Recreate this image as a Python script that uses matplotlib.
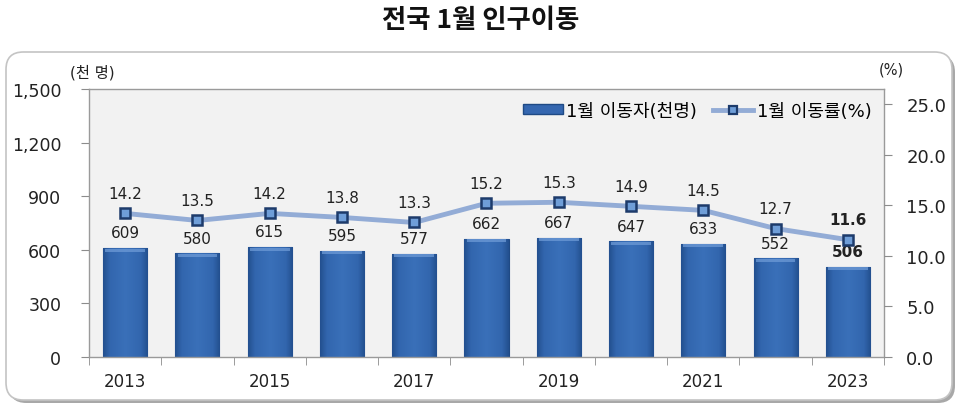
import matplotlib
matplotlib.use("Agg")
import matplotlib.pyplot as plt
from matplotlib.patches import FancyBboxPatch, Patch
from matplotlib.lines import Line2D
from matplotlib.colors import LinearSegmentedColormap
import numpy as np

plt.rcParams['font.family'] = ['DejaVu Sans', 'Noto Sans CJK KR']

years = [2013, 2014, 2015, 2016, 2017, 2018, 2019, 2020, 2021, 2022, 2023]
movers = [609, 580, 615, 595, 577, 662, 667, 647, 633, 552, 506]
rates = [14.2, 13.5, 14.2, 13.8, 13.3, 15.2, 15.3, 14.9, 14.5, 12.7, 11.6]
left_ticks = [0, 300, 600, 900, 1200, 1500]
right_ticks = [0, 5, 10, 15, 20, 25]
title = "전국 1월 인구이동"
bar_label = "1월 이동자(천명)"
line_label = "1월 이동률(%)"

W, H = 962, 410
fig = plt.figure(figsize=(W/100, H/100), dpi=100)
fig.patch.set_facecolor('white')

# rounded frame with shadow
shadow = FancyBboxPatch((9/W, 6/H), 946/W, 348/H, boxstyle="round,pad=0,rounding_size=0.018",
                        transform=fig.transFigure, facecolor='#a8a8a8', edgecolor='none',
                        mutation_aspect=W/H, zorder=0)
frame = FancyBboxPatch((6/W, 9/H), 946/W, 348/H, boxstyle="round,pad=0,rounding_size=0.018",
                       transform=fig.transFigure, facecolor='white', edgecolor='#c4c4c4',
                       linewidth=1.2, mutation_aspect=W/H, zorder=0.5)
fig.patches.extend([shadow, frame])

fig.text(0.5, 1 - 20/H, title, ha='center', va='center', fontsize=19, fontweight='bold',
         family=['Noto Sans CJK KR'], color='#111111')

ax = fig.add_axes([89/W, 52/H, 795/W, 268/H])
ax.set_facecolor('#f2f2f2')
ax.set_zorder(2)
x = np.arange(len(years))
bw = 0.61
bars = ax.bar(x, movers, width=bw, color='#3567b0', edgecolor='#1f4a85', linewidth=0.8, zorder=2)

# subtle horizontal gradient inside each bar (darker edges, lighter centre)
cmap = LinearSegmentedColormap.from_list(
    'barg', [(0, '#23508f'), (0.15, '#3266ae'), (0.5, '#3a70b9'), (0.85, '#3266ae'), (1, '#23508f')])
grad = np.linspace(0, 1, 64).reshape(1, -1)
for b in bars:
    bx, by = b.get_x(), b.get_y()
    bwid, bh = b.get_width(), b.get_height()
    im = ax.imshow(grad, extent=(bx, bx + bwid, by, by + bh), cmap=cmap, aspect='auto',
                   zorder=2.1, interpolation='bicubic')
    im.set_clip_path(b)
    # light top bevel
    ax.fill_between([bx + bwid * 0.05, bx + bwid * 0.95], by + bh - 20, by + bh - 3,
                    color='#6d9ad6', alpha=0.75, zorder=2.2, linewidth=0)

ax.set_xlim(-0.5, len(years) - 0.5)
ax.set_ylim(0, 1500)
ax.set_yticks(left_ticks)
ax.set_yticklabels([f"{v:,}" for v in left_ticks], fontsize=12.5, color='#222222')
ax.set_xticks(x[::2])
ax.set_xticklabels([str(y) for y in years[::2]], fontsize=12, color='#222222')
ax.set_xticks(np.arange(-0.5, len(years) + 0.5, 1), minor=True)
ax.tick_params(axis='x', which='major', length=0, pad=11)
ax.tick_params(axis='x', which='minor', length=6, color='#8c8c8c', direction='out')
ax.tick_params(axis='y', length=6, color='#8c8c8c', pad=14)
for s in ax.spines.values():
    s.set_color('#9a9a9a')
    s.set_linewidth(1.0)

for xi, v in zip(x, movers):
    bold = xi == len(years) - 1
    ax.annotate(str(v), (xi, v), xytext=(0, 11), textcoords='offset points',
                ha='center', va='center', fontsize=11,
                fontweight='bold' if bold else 'normal', color='#222222', zorder=5)

ax2 = ax.twinx()
ax2.set_ylim(0, 26.5)
ax2.set_yticks(right_ticks)
ax2.set_yticklabels([f"{v:.1f}" for v in right_ticks], fontsize=13, color='#222222')
ax2.tick_params(axis='y', length=6, color='#8c8c8c', pad=10)
for s in ax2.spines.values():
    s.set_visible(False)
ax2.plot(x, rates, color='#93acd6', linewidth=3.5, zorder=3, solid_capstyle='round')
ax2.plot(x, rates, linestyle='none', marker='s', markersize=6.5, markerfacecolor='#6f9ed8',
         markeredgecolor='#1d3b6b', markeredgewidth=1.8, zorder=4)
for xi, v in zip(x, rates):
    bold = xi == len(years) - 1
    ax2.annotate(f"{v:.1f}", (xi, v), xytext=(0, 14.5), textcoords='offset points',
                 ha='center', va='center', fontsize=11,
                 fontweight='bold' if bold else 'normal', color='#222222', zorder=5)

handles = [Patch(facecolor='#3567b0', edgecolor='#1f4a85'),
           Line2D([0], [0], color='#93acd6', linewidth=3.5, marker='s', markersize=6,
                  markerfacecolor='#6f9ed8', markeredgecolor='#1d3b6b', markeredgewidth=1.6)]
leg = ax2.legend(handles, [bar_label, line_label], loc='upper right', ncol=2, frameon=False,
                 bbox_to_anchor=(1.0, 1.0), handlelength=2.2, handleheight=0.45, handletextpad=0.2,
                 columnspacing=0.9, borderaxespad=0.3,
                 prop={'family': ['DejaVu Sans', 'Noto Sans CJK KR'], 'size': 13})

fig.text(70/W, 1 - 73/H, "(천 명)", ha='left', va='center', fontsize=11,
         family=['DejaVu Sans', 'Noto Sans CJK KR'], color='#222222')
fig.text(891/W, 1 - 70/H, "(%)", ha='center', va='center', fontsize=10.5, color='#222222')

fig.savefig("out.png", dpi=100)
